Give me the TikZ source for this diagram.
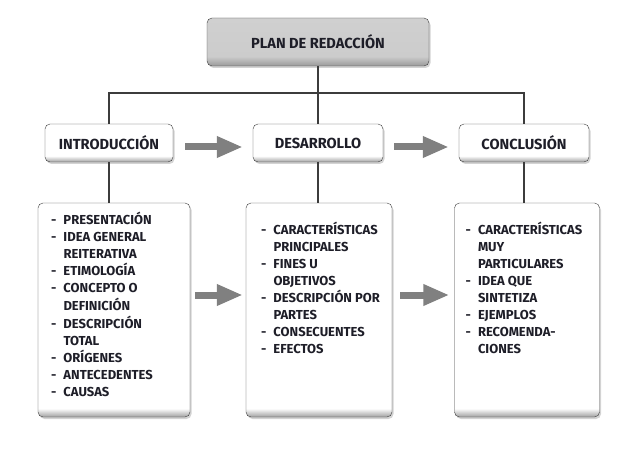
\documentclass[tikz,border=0pt]{standalone}
\usepackage{fontspec}
\setmainfont{Fira Sans}
\usetikzlibrary{arrows.meta,shadows}
\definecolor{inkc}{RGB}{30,30,40}
\definecolor{linec}{RGB}{60,60,60}
\definecolor{arrowc}{RGB}{128,128,128}
\pgfdeclareverticalshading{whitebox}{100bp}{color(0bp)=(gray!75); color(25bp)=(gray!75); color(33bp)=(white); color(100bp)=(white)}
\pgfdeclareverticalshading{tallbox}{100bp}{color(0bp)=(gray!75); color(25bp)=(gray!75); color(27bp)=(white); color(100bp)=(white)}
\pgfdeclareverticalshading{greybox}{100bp}{color(0bp)=(gray!80); color(25bp)=(gray!80); color(35bp)=(gray!40); color(100bp)=(gray!35)}
\tikzset{
  basebox/.style={draw=linec, rounded corners=5pt, text=inkc, font=\bfseries\fontsize{13}{17}\selectfont,
    drop shadow={shadow xshift=1.5pt, shadow yshift=-2pt, opacity=.35}},
  headbox/.style={basebox, shading=whitebox, minimum width=130pt, minimum height=38pt, font=\bfseries\fontsize{14.6}{17}\selectfont},
  topbox/.style={basebox, shading=greybox, minimum width=222pt, minimum height=48pt, font=\bfseries\fontsize{14.6}{17}\selectfont},
  listbox/.style={basebox, shading=tallbox, inner xsep=13pt, inner ysep=9pt},
  conn/.style={draw=linec, line width=1.2pt},
  fatarrow/.style={draw=arrowc, line width=7pt, -{Triangle[width=20pt,length=26pt]}}
}
\newcommand{\listtext}[2]{\parbox[t][196pt][t]{#1}{\begin{tabular}{@{}p{12.5pt}@{}l@{}}#2\end{tabular}}}
\begin{document}
\begin{tikzpicture}[x=1pt,y=-1pt]
\useasboundingbox (0,0) rectangle (623,465);

\node[topbox] (plan) at (318,42) {PLAN DE REDACCIÓN};

\node[headbox, minimum width=128pt] (intro) at (109,143) {INTRODUCCIÓN};
\node[headbox] (dev) at (318,143) {DESARROLLO};
\node[headbox] (concl) at (524,143) {CONCLUSIÓN};

\node[listbox] (introlist) at (114,310) {\listtext{126pt}{%
-&PRESENTACIÓN\\ -&IDEA GENERAL\\ &REITERATIVA\\ -&ETIMOLOGÍA\\ -&CONCEPTO O\\ &DEFINICIÓN\\
-&DESCRIPCIÓN\\ &TOTAL\\ -&ORÍGENES\\ -&ANTECEDENTES\\ -&CAUSAS}};
\node[listbox, inner xsep=15pt] (devlist) at (319,310) {\listtext{116pt}{%
\rule{0pt}{22pt}-&CARACTERÍSTICAS\\ &PRINCIPALES\\ -&FINES U\\ &OBJETIVOS\\ -&DESCRIPCIÓN POR\\ &PARTES\\
-&CONSECUENTES\\ -&EFECTOS}};
\node[listbox, inner xsep=11pt] (concllist) at (527,310) {\listtext{123pt}{%
\rule{0pt}{22pt}-&CARACTERÍSTICAS\\ &MUY\\ &PARTICULARES\\ -&IDEA QUE\\ &SINTETIZA\\ -&EJEMPLOS\\
-&RECOMENDA-\\ &CIONES}};

\coordinate (bus) at (318,93);
\draw[conn] (plan) -- (dev);
\draw[conn] (intro.north) |- (bus) -| (concl.north);
\draw[conn] (intro.south) -- (intro.south |- introlist.north);
\draw[conn] (dev.south) -- (dev.south |- devlist.north);
\draw[conn] (concl.south) -- (concl.south |- concllist.north);

\draw[fatarrow] ([xshift=12pt,yshift=-4pt]intro.east) -- ([xshift=-10pt,yshift=-4pt]dev.west);
\draw[fatarrow] ([xshift=11pt,yshift=-4pt]dev.east) -- ([xshift=-10pt,yshift=-4pt]concl.west);
\draw[fatarrow] ([xshift=5pt,yshift=15pt]introlist.east) -- ([xshift=-3pt,yshift=15pt]devlist.west);
\draw[fatarrow] ([xshift=8pt,yshift=15pt]devlist.east) -- ([xshift=-5pt,yshift=15pt]concllist.west);
\end{tikzpicture}
\end{document}
